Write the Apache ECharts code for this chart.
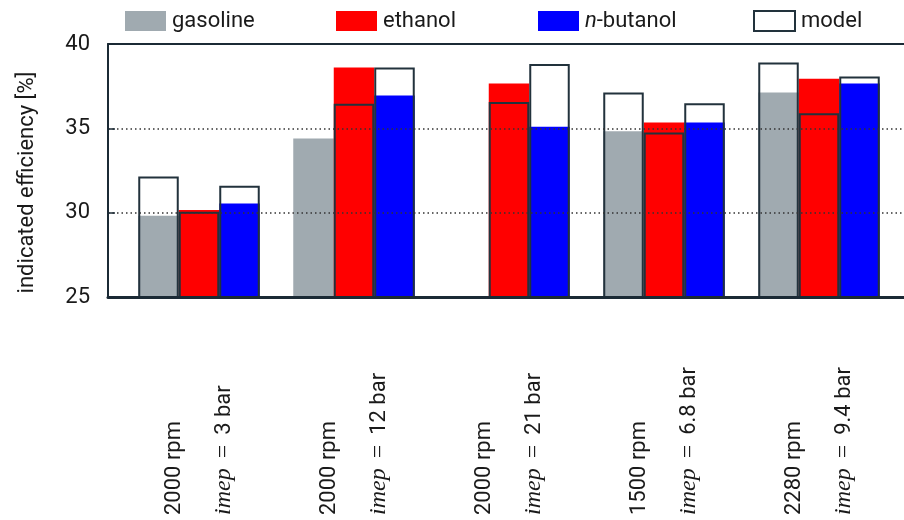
<!DOCTYPE html>
<html>
<head>
<meta charset="utf-8">
<script src="https://cdn.jsdelivr.net/npm/echarts@6/dist/echarts.min.js"></script>
<style>
html,body{margin:0;padding:0;background:#fff;}
#chart{width:904px;height:520px;}
</style>
</head>
<body>
<div id="chart"></div>
<script>
// ---- data ----
var rpmLabels = ['2000 rpm', '2000 rpm', '2000 rpm', '1500 rpm', '2280 rpm'];
var imepLabels = ['3 bar', '12 bar', '21 bar', '6.8 bar', '9.4 bar'];
var gasoline = [29.82, 34.39, null, 34.82, 37.13];
var ethanol = [30.16, 38.60, 37.66, 35.35, 37.94];
var butanol = [30.55, 36.94, 35.10, 35.35, 37.66];
var modelGasoline = [32.15, null, null, 37.13, 38.91];
var modelEthanol = [30.06, 36.46, 36.56, 34.76, 35.89];
var modelButanol = [31.60, 38.61, 38.81, 36.48, 38.08];
var yTicks = [25, 30, 35, 40];

var categories = rpmLabels.map(function (r, i) { return r + '|' + imepLabels[i]; });

var FONT = 'Roboto';
var TXT = '#1a1a1a';
var EDGE = '#22323c';
var BW = 40.5;

var chart = echarts.init(document.getElementById('chart'), null, {renderer: 'canvas'});

function measured(name, data, color) {
  return {
    name: name, type: 'bar', xAxisIndex: 0, yAxisIndex: 0,
    data: data, barWidth: BW, barGap: '0%', z: 2,
    itemStyle: {color: color, borderWidth: 0},
    emphasis: {disabled: true}
  };
}
function model(data) {
  return {
    name: 'model', type: 'bar', xAxisIndex: 1, yAxisIndex: 0,
    data: data, barWidth: BW, barGap: '0%', z: 3,
    itemStyle: {color: 'rgba(0,0,0,0)', borderColor: EDGE, borderWidth: 2},
    emphasis: {disabled: true}
  };
}

function legendAt(name, left, extra) {
  var l = {
    data: [name], left: left, top: 10, padding: 0, itemWidth: 41, itemHeight: 20,
    icon: 'rect', selectedMode: false,
    textStyle: {fontFamily: FONT, fontSize: 22, color: TXT, padding: [0, 0, 0, 1],
      rich: {it: {fontFamily: FONT, fontSize: 22, fontStyle: 'italic', color: TXT}}},
    formatter: function (n) { return n === 'n-butanol' ? '{it|n}-butanol' : n; }
  };
  if (extra) { for (var k in extra) l[k] = extra[k]; }
  return l;
}

var option = {
  backgroundColor: '#fff',
  animation: false,
  legend: [
    legendAt('gasoline', 125),
    legendAt('ethanol', 336),
    legendAt('n-butanol', 538),
    legendAt('model', 753, {itemStyle: {color: '#fff', borderColor: EDGE, borderWidth: 2}})
  ],
  grid: [
    {left: 121.5, width: 775, top: 44, height: 253},
    {left: 108, width: 803, top: 44, height: 253}
  ],
  xAxis: [
    {
      type: 'category', gridIndex: 0, data: categories,
      axisLine: {show: false}, axisTick: {show: false},
      axisLabel: {
        rotate: 90, align: 'left', verticalAlign: 'middle', margin: 218,
        interval: 0,
        formatter: function (v) {
          var p = v.split('|');
          return '{a|' + p[0] + '}\n{i|imep}{e|=}{a|' + p[1] + '}';
        },
        rich: {
          a: {fontFamily: FONT, fontSize: 22, color: TXT, lineHeight: 50},
          i: {fontFamily: 'Liberation Serif', fontStyle: 'italic', fontSize: 24, color: TXT, lineHeight: 50},
          e: {fontFamily: 'Liberation Serif', fontSize: 24, color: TXT, lineHeight: 50, padding: [0, 10, 0, 10]}
        }
      }
    },
    {
      type: 'category', gridIndex: 0, data: categories, show: false
    },
    {
      type: 'value', gridIndex: 1, min: 0, max: 1, position: 'bottom', z: 10,
      axisLine: {show: true, lineStyle: {color: '#1b2a35', width: 3}},
      axisTick: {show: false}, axisLabel: {show: false}, splitLine: {show: false}
    },
    {
      type: 'value', gridIndex: 1, min: 0, max: 1, position: 'top', z: 10,
      axisLine: {show: true, lineStyle: {color: '#1b2a35', width: 2}},
      axisTick: {show: false}, axisLabel: {show: false}, splitLine: {show: false}
    }
  ],
  yAxis: [
    {
      type: 'value', gridIndex: 0, min: yTicks[0], max: yTicks[yTicks.length - 1], interval: 5,
      show: false, splitLine: {show: false}
    },
    {
      type: 'value', gridIndex: 1, min: yTicks[0], max: yTicks[yTicks.length - 1], interval: 5,
      z: 10,
      name: 'indicated efficiency [%]', nameLocation: 'middle', nameGap: 70,
      nameTextStyle: {fontFamily: FONT, fontSize: 22, color: TXT, padding: [0, 24, 0, 0]},
      axisLine: {show: true, lineStyle: {color: '#1b2a35', width: 2}},
      axisTick: {show: true, inside: true, length: 7, lineStyle: {color: '#1b2a35', width: 1.5}},
      axisLabel: {fontFamily: FONT, fontSize: 22, color: TXT, margin: 18},
      splitLine: {show: true, showMinLine: false, showMaxLine: false,
        lineStyle: {color: '#333', width: 1.5, type: [1.5, 3]}}
    }
  ],
  series: [
    measured('gasoline', gasoline, '#a0aab0'),
    measured('ethanol', ethanol, '#ff0000'),
    measured('n-butanol', butanol, '#0000ff'),
    model(modelGasoline),
    model(modelEthanol),
    model(modelButanol)
  ]
};
chart.setOption(option);
</script>
</body>
</html>
